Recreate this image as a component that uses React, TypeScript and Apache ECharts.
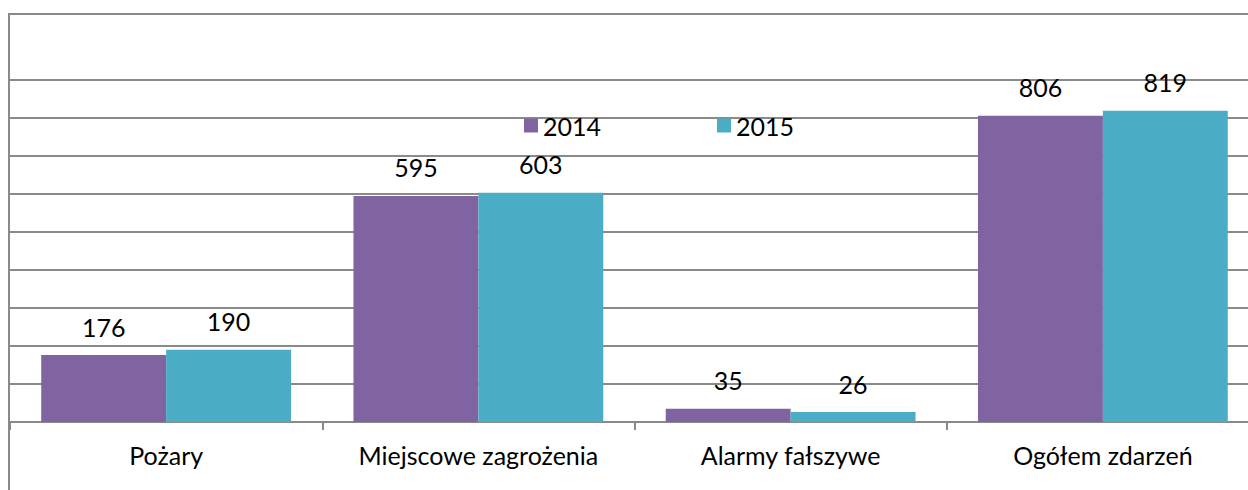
import React, { useEffect, useRef } from "react";
import * as echarts from "echarts";

const categories = ["Pożary", "Miejscowe zagrożenia", "Alarmy fałszywe", "Ogółem zdarzeń"];
const values2014 = [176, 595, 35, 806];
const values2015 = [190, 603, 26, 819];
const seriesNames = ["2014", "2015"];
const seriesColors = ["#8064A2", "#4BACC6"];
const yMin = 0;
const yMax = 900;
const yInterval = 100;

const FONT = "Lato";
const FS = 25;
const GRAY = "#8a8a8a";

export default function App() {
  const ref = useRef<HTMLDivElement>(null);
  useEffect(() => {
    document.body.style.margin = "0";
    const chart = echarts.init(ref.current!, null, { renderer: "svg" });
    const labelStyle = {
      show: true,
      position: "top" as const,
      distance: 16,
      fontFamily: FONT,
      fontSize: FS,
      color: "#000",
    };
    const legendBase = {
      top: 108,
      padding: 5,
      icon: "rect",
      itemWidth: 14,
      itemHeight: 14,
      itemGap: 0,
      textStyle: { fontFamily: FONT, fontSize: FS, color: "#000" },
    };
    chart.setOption({
      animation: false,
      backgroundColor: "#fff",
      textStyle: { fontFamily: FONT },
      grid: {
        left: 10,
        right: -11,
        top: 80,
        bottom: 68,
        containLabel: false,
        outerBoundsMode: "none",
      },
      legend: [
        { ...legendBase, data: [seriesNames[0]], left: 519 },
        { ...legendBase, data: [seriesNames[1]], left: 712 },
      ],
      xAxis: {
        type: "category",
        data: categories,
        boundaryGap: true,
        axisLine: { show: true, lineStyle: { color: GRAY, width: 2 } },
        axisTick: { show: true, length: 8, lineStyle: { color: GRAY, width: 2 } },
        axisLabel: {
          interval: 0,
          hideOverlap: false,
          margin: 20,
          fontFamily: FONT,
          fontSize: FS,
          color: "#000",
        },
      },
      yAxis: {
        type: "value",
        min: yMin,
        max: yMax,
        interval: yInterval,
        axisLine: { show: false },
        axisTick: { show: false },
        axisLabel: { show: false },
        splitLine: { show: true, lineStyle: { color: GRAY, width: 2 } },
      },
      series: [
        {
          name: seriesNames[0],
          type: "bar",
          data: values2014,
          barGap: "0%",
          barCategoryGap: "20%",
          itemStyle: { color: seriesColors[0] },
          label: labelStyle,
        },
        {
          name: seriesNames[1],
          type: "bar",
          data: values2015,
          barGap: "0%",
          barCategoryGap: "20%",
          itemStyle: { color: seriesColors[1] },
          label: labelStyle,
        },
      ],
      graphic: [
        {
          type: "line",
          shape: { x1: 9, y1: 14, x2: 1248, y2: 14 },
          style: { stroke: GRAY, lineWidth: 2 },
          z: 10,
        },
        {
          type: "line",
          shape: { x1: 9, y1: 13, x2: 9, y2: 490 },
          style: { stroke: GRAY, lineWidth: 2 },
          z: 10,
        },
      ],
    });
    return () => chart.dispose();
  }, []);
  return (
    <div
      ref={ref}
      style={{ position: "absolute", left: 0, top: 0, width: 1248, height: 490 }}
    />
  );
}
